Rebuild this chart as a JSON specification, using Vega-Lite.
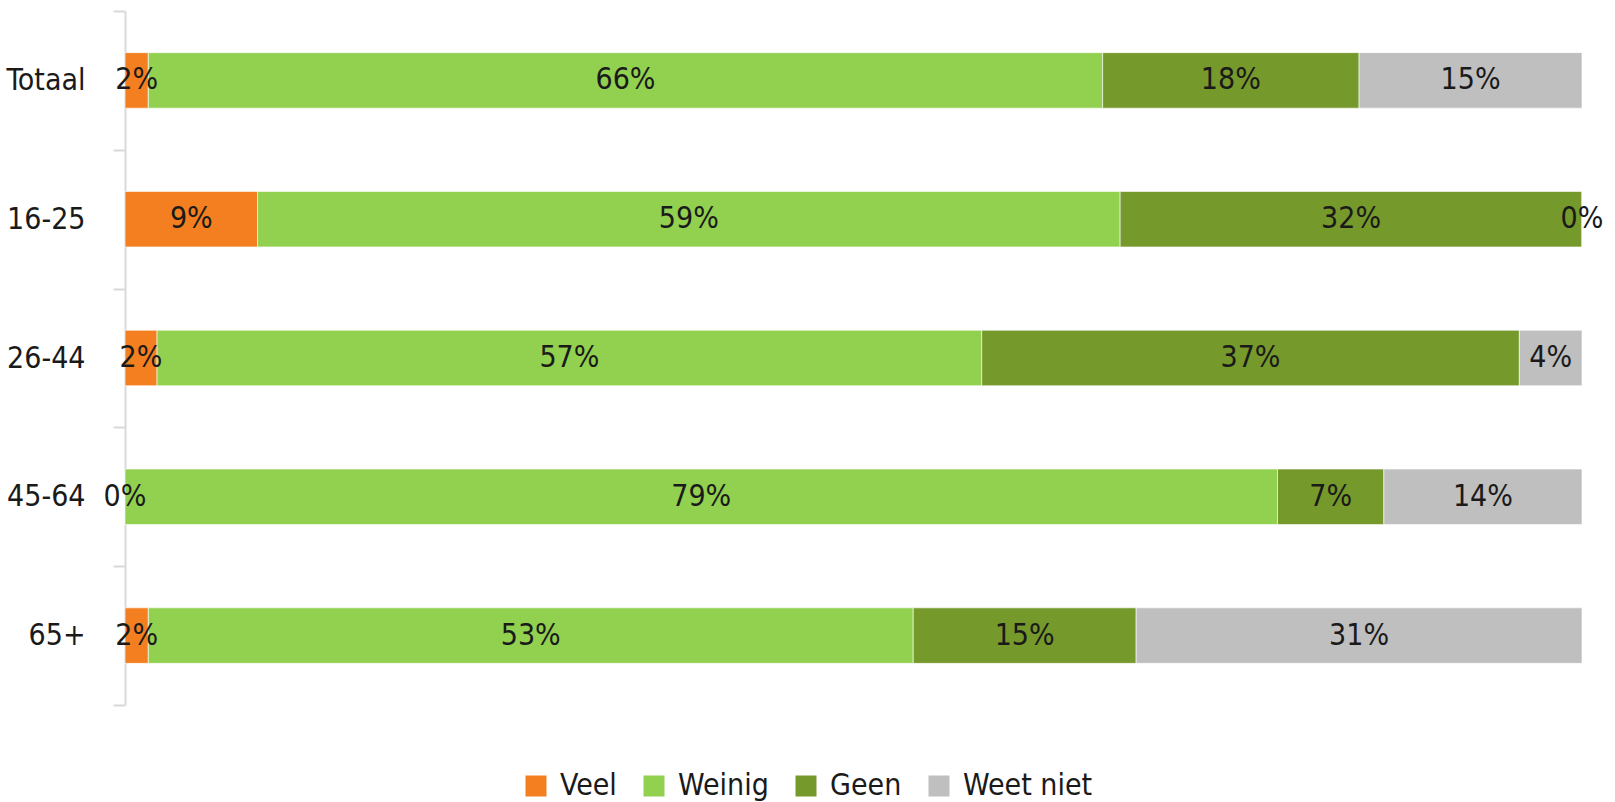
{
  "$schema": "https://vega.github.io/schema/vega-lite/v6.json",
  "width": 1457,
  "height": 694,
  "autosize": {"type": "none"},
  "padding": {"left": 125, "top": 11, "right": 33, "bottom": 97},
  "background": "white",
  "config": {
    "view": {"stroke": null},
    "font": "DejaVu Sans Condensed, Open Sans",
    "text": {"font": "DejaVu Sans Condensed, Open Sans"}
  },
  "data": {
    "values": [
      {"group": "Totaal", "cat": "Veel", "value": 0.016},
      {"group": "Totaal", "cat": "Weinig", "value": 0.655},
      {"group": "Totaal", "cat": "Geen", "value": 0.176},
      {"group": "Totaal", "cat": "Weet niet", "value": 0.153},
      {"group": "16-25", "cat": "Veel", "value": 0.091},
      {"group": "16-25", "cat": "Weinig", "value": 0.592},
      {"group": "16-25", "cat": "Geen", "value": 0.317},
      {"group": "16-25", "cat": "Weet niet", "value": 0.0},
      {"group": "26-44", "cat": "Veel", "value": 0.022},
      {"group": "26-44", "cat": "Weinig", "value": 0.566},
      {"group": "26-44", "cat": "Geen", "value": 0.369},
      {"group": "26-44", "cat": "Weet niet", "value": 0.043},
      {"group": "45-64", "cat": "Veel", "value": 0.0},
      {"group": "45-64", "cat": "Weinig", "value": 0.791},
      {"group": "45-64", "cat": "Geen", "value": 0.073},
      {"group": "45-64", "cat": "Weet niet", "value": 0.136},
      {"group": "65+", "cat": "Veel", "value": 0.016},
      {"group": "65+", "cat": "Weinig", "value": 0.525},
      {"group": "65+", "cat": "Geen", "value": 0.153},
      {"group": "65+", "cat": "Weet niet", "value": 0.306}
    ]
  },
  "transform": [
    {"calculate": "indexof(['Veel','Weinig','Geen','Weet niet'], datum.cat)", "as": "ord"},
    {"stack": "value", "groupby": ["group"], "sort": [{"field": "ord", "order": "ascending"}], "as": ["v0", "v1"]},
    {"calculate": "(datum.v0 + datum.v1) / 2", "as": "mid"}
  ],
  "encoding": {
    "y": {
      "field": "group",
      "type": "nominal",
      "sort": ["Totaal", "16-25", "26-44", "45-64", "65+"],
      "scale": {"paddingInner": 0, "paddingOuter": 0},
      "axis": {
        "title": null,
        "domainColor": "#d9d9d9",
        "domainWidth": 2,
        "tickColor": "#d9d9d9",
        "tickWidth": 2,
        "tickSize": 12,
        "tickBand": "extent",
        "labelFont": "DejaVu Sans Condensed, Open Sans",
        "labelFontSize": 30,
        "labelColor": "#1a1a1a",
        "labelPadding": 28
      }
    }
  },
  "layer": [
    {
      "mark": {"type": "bar", "height": {"band": 0.4}, "stroke": "white", "strokeWidth": 1, "strokeOpacity": 0.6},
      "encoding": {
        "x": {
          "field": "v0",
          "type": "quantitative",
          "scale": {"domain": [0, 1], "nice": false, "zero": true},
          "axis": null
        },
        "x2": {"field": "v1"},
        "color": {
          "field": "cat",
          "type": "nominal",
          "scale": {
            "domain": ["Veel", "Weinig", "Geen", "Weet niet"],
            "range": ["#F47F20", "#92D050", "#76992B", "#BFBFBF"]
          },
          "legend": {
            "title": null,
            "orient": "none",
            "direction": "horizontal",
            "legendX": 396,
            "legendY": 760,
            "symbolType": "square",
            "symbolSize": 441,
            "symbolStrokeWidth": 0,
            "symbolOpacity": 1,
            "labelFont": "DejaVu Sans Condensed, Open Sans",
            "labelFontSize": 30,
            "labelColor": "#1a1a1a",
            "labelBaseline": "middle",
            "labelOffset": 9,
            "columnPadding": 22,
            "padding": 0
          }
        }
      }
    },
    {
      "mark": {"type": "text", "fontSize": 30, "color": "#1a1a1a", "baseline": "middle", "align": "center"},
      "encoding": {
        "x": {"field": "mid", "type": "quantitative"},
        "text": {"field": "value", "type": "quantitative", "format": ".0%"}
      }
    }
  ]
}
